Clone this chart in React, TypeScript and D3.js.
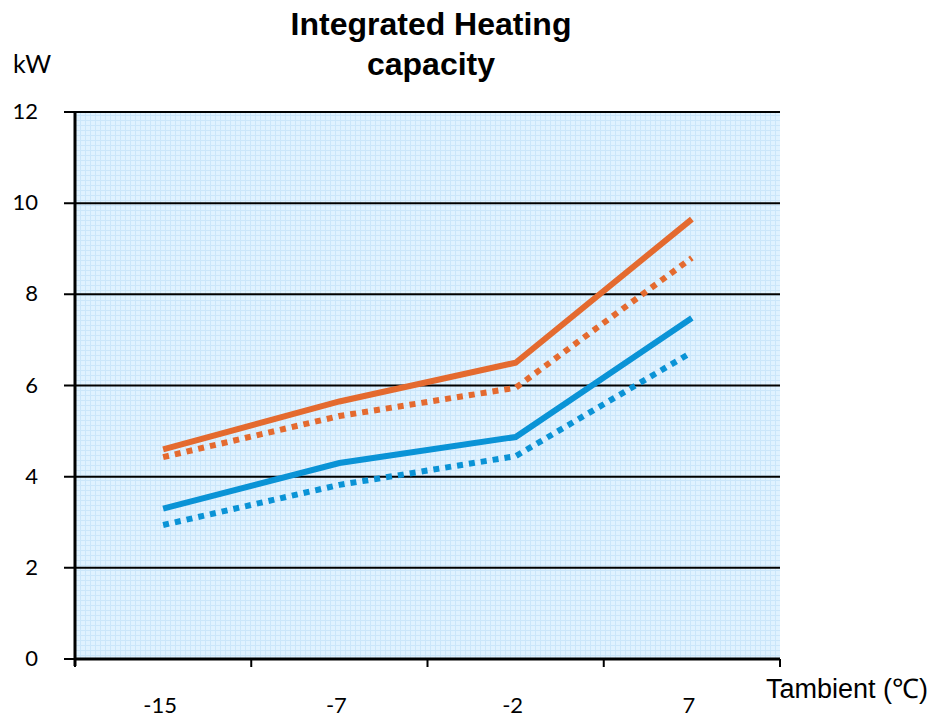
import React from "react";
import * as d3 from "d3";

const categories = ["-15", "-7", "-2", "7"];
const yTicks = [0, 2, 4, 6, 8, 10, 12];
const orangeSolid = [4.6, 5.65, 6.5, 9.65];
const orangeDotted = [4.43, 5.33, 5.95, 8.8];
const blueSolid = [3.3, 4.3, 4.87, 7.48];
const blueDotted = [2.94, 3.82, 4.45, 6.73];

const series = [
  { name: "orangeSolid", values: orangeSolid, color: "#E46A2F", dash: null },
  { name: "orangeDotted", values: orangeDotted, color: "#E46A2F", dash: "6,6" },
  { name: "blueSolid", values: blueSolid, color: "#0A93D6", dash: null },
  { name: "blueDotted", values: blueDotted, color: "#0A93D6", dash: "6,6" },
];

export default function App() {
  const W = 931, H = 717;
  const left = 75, right = 780, top = 112, bottom = 659;
  const x = d3.scaleBand<string>().domain(categories).range([left, right]);
  const y = d3.scaleLinear().domain([0, 12]).range([bottom, top]);
  const line = d3
    .line<number>()
    .x((_, i) => (x(categories[i]) as number) + x.bandwidth() / 2)
    .y((d) => y(d));
  const font = "'Liberation Sans', Arial, sans-serif";
  const tickFont = "Lato, 'Open Sans', sans-serif";
  const boundaries = categories.map((c) => x(c) as number).concat([right]);

  return (
    <svg width={W} height={H} style={{ position: "absolute", left: 0, top: 0 }}>
      <defs>
        <pattern id="grid" width="5" height="5" patternUnits="userSpaceOnUse">
          <rect width="5" height="5" fill="#E0F2FF" />
          <path d="M0 0.5H5M0.5 0V5" stroke="#CBE6FA" strokeWidth="1" />
        </pattern>
      </defs>
      <rect x={left} y={top} width={right - left} height={bottom - top} fill="url(#grid)" />
      {yTicks.map((t) => (
        <g key={t}>
          <line x1={64} x2={right} y1={y(t)} y2={y(t)} stroke="#000" strokeWidth={2} />
          <text x={38} y={y(t) + 7} textAnchor="end" fontSize={22} fontFamily={tickFont} fill="#000">
            {t}
          </text>
        </g>
      ))}
      <line x1={left} x2={left} y1={top - 1} y2={bottom + 7} stroke="#000" strokeWidth={3} />
      <line x1={left} x2={right} y1={bottom} y2={bottom} stroke="#000" strokeWidth={3} />
      {boundaries.map((b, i) => (
        <line key={i} x1={b} x2={b} y1={bottom} y2={bottom + 8} stroke="#000" strokeWidth={2} />
      ))}
      {categories.map((c) => (
        <text
          key={c}
          x={(x(c) as number) + x.bandwidth() / 2 - 3}
          y={713}
          textAnchor="middle"
          fontSize={22}
          fontFamily={tickFont}
          fill="#000"
        >
          {c}
        </text>
      ))}
      {series.map((s) => (
        <path
          key={s.name}
          d={line(s.values) as string}
          fill="none"
          stroke={s.color}
          strokeWidth={6}
          strokeDasharray={s.dash ?? undefined}
          strokeLinejoin="miter"
        />
      ))}
      <text x={431} y={35} textAnchor="middle" fontSize={32} fontWeight="bold" fontFamily={font} fill="#000">
        Integrated Heating
      </text>
      <text x={431} y={75} textAnchor="middle" fontSize={32} fontWeight="bold" fontFamily={font} fill="#000">
        capacity
      </text>
      <text x={13} y={73} fontSize={25} fontFamily={tickFont} fill="#000">
        kW
      </text>
      <text x={928} y={698} textAnchor="end" fontSize={27} fontFamily={font} fill="#000">
        Tambient (℃)
      </text>
    </svg>
  );
}
